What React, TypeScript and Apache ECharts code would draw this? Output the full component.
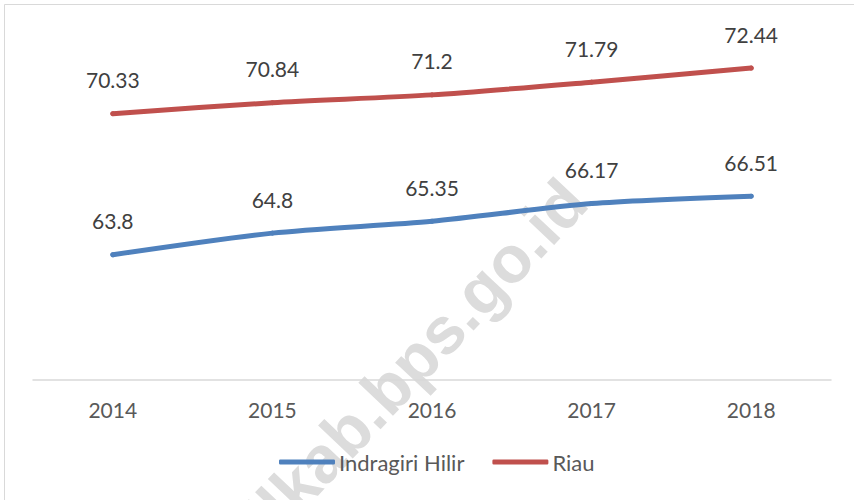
import React, { useEffect, useRef } from "react";
import * as echarts from "echarts";

const years = ["2014", "2015", "2016", "2017", "2018"];
const indragiriHilir = [63.8, 64.8, 65.35, 66.17, 66.51];
const riau = [70.33, 70.84, 71.2, 71.79, 72.44];
const seriesNames = ["Indragiri Hilir", "Riau"];
const watermarkText = "inhilkab.bps.go.id";

const FONT = "Lato, 'Open Sans', sans-serif";

export default function App() {
  const ref = useRef<HTMLDivElement>(null);
  useEffect(() => {
    if (!ref.current) return;
    const chart = echarts.init(ref.current, null, { renderer: "svg" });
    const label = {
      show: true,
      position: "top" as const,
      distance: 21,
      color: "#404040",
      fontFamily: FONT,
      fontSize: 21,
    };
    chart.setOption({
      animation: false,
      backgroundColor: "#ffffff",
      graphic: [
        {
          type: "rect",
          z: 0,
          silent: true,
          shape: { x: 4.5, y: 4.5, width: 900, height: 600 },
          style: { fill: "none", stroke: "#d9d9d9", lineWidth: 1 },
        },
        {
          type: "text",
          z: 0,
          silent: true,
          x: 382,
          y: 394,
          rotation: (46.7 * Math.PI) / 180,
          style: {
            text: watermarkText,
            fill: "#dcdcdc",
            font: "bold 66px 'Liberation Sans', Arial, sans-serif",
            textAlign: "center",
            textVerticalAlign: "middle",
          },
        },
      ],
      grid: { left: 33, right: 23, top: 34.4, bottom: 120, containLabel: false },
      legend: {
        left: 279,
        top: 451,
        padding: 0,
        icon: "roundRect",
        itemWidth: 56,
        itemHeight: 5,
        itemGap: 28,
        data: seriesNames,
        textStyle: { color: "#595959", fontFamily: FONT, fontSize: 22, padding: [0, 0, 0, -1] },
      },
      xAxis: {
        type: "category",
        data: years,
        boundaryGap: true,
        axisLine: { lineStyle: { color: "#d9d9d9", width: 1.5 } },
        axisTick: { show: false },
        axisLabel: { color: "#595959", fontFamily: FONT, fontSize: 21, margin: 19 },
        splitLine: { show: false },
      },
      yAxis: {
        type: "value",
        min: 58,
        max: 74,
        interval: 2,
        show: false,
        splitLine: { show: false },
      },
      series: [
        {
          name: seriesNames[0],
          type: "line",
          data: indragiriHilir,
          symbol: "circle",
          symbolSize: 5,
          showSymbol: true,
          smooth: 0.25,
          color: "#4f81bd",
          itemStyle: { color: "#4f81bd", borderWidth: 0 },
          lineStyle: { width: 5, cap: "round", join: "round", color: "#4f81bd" },
          label,
        },
        {
          name: seriesNames[1],
          type: "line",
          data: riau,
          symbol: "circle",
          symbolSize: 5,
          showSymbol: true,
          smooth: 0.25,
          color: "#c0504d",
          itemStyle: { color: "#c0504d", borderWidth: 0 },
          lineStyle: { width: 5, cap: "round", join: "round", color: "#c0504d" },
          label,
        },
      ],
    });
    return () => chart.dispose();
  }, []);
  return (
    <div
      ref={ref}
      style={{ position: "fixed", left: 0, top: 0, width: 854, height: 500 }}
    />
  );
}
